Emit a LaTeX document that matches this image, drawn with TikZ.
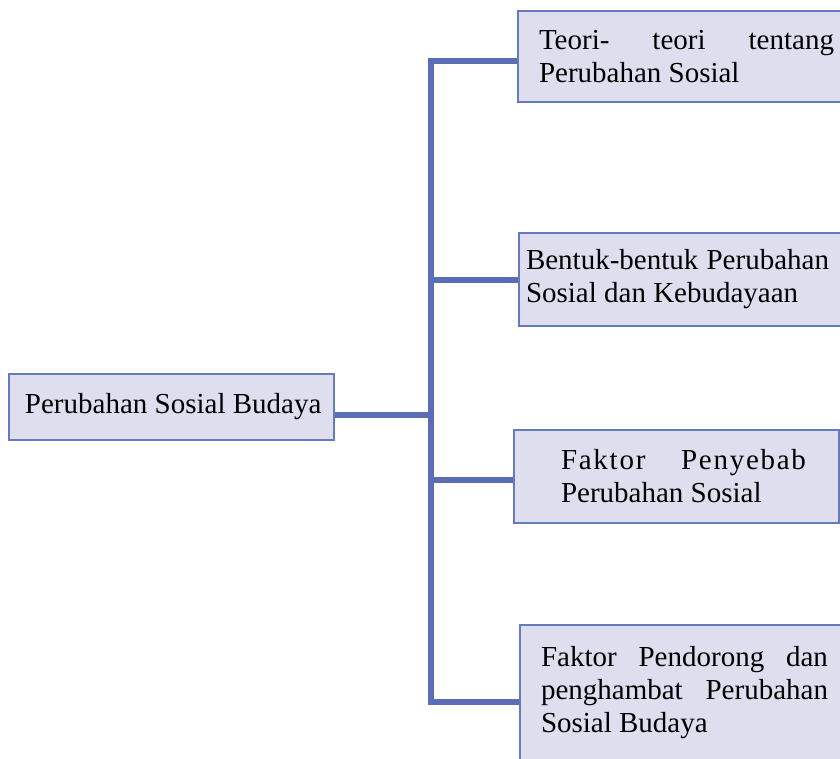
\documentclass[tikz,border=0pt]{standalone}
\usepackage{fontspec}
\setmainfont{Liberation Serif}
\definecolor{linkblue}{RGB}{91,110,181}
\definecolor{boxfill}{RGB}{222,222,238}
\definecolor{boxedge}{RGB}{102,122,190}
\tikzset{
  topic/.style={draw=boxedge, fill=boxfill, line width=2pt, inner sep=0pt,
    anchor=north west, align=flush left, font=\fontsize{29}{33}\selectfont},
  conn/.style={draw=linkblue, line width=6.5pt, line join=miter, line cap=butt},
}
\newcommand{\indt}[1]{\hspace*{#1pt}}
\begin{document}
\begin{tikzpicture}[x=1pt,y=-1pt]
\useasboundingbox (0,0) rectangle (840,758);
\clip (0,0) rectangle (840,758);
\node[topic, text width=337pt, minimum height=91pt] (t1) at (517,10)
  {\indt{21}\makebox[295pt][l]{Teori-\hfill teori\hfill tentang}\\\indt{21}Perubahan Sosial};
\node[topic, text width=330pt, minimum height=93pt] (t2) at (518,232)
  {\indt{7}\makebox[303pt][l]{Bentuk-bentuk\hfill Perubahan}\\\indt{7}Sosial dan Kebudayaan};
\node[topic, text width=325pt, minimum height=93pt] (t3) at (513,429)
  {\indt{47}\makebox[245pt][l]{\addfontfeature{LetterSpace=6}Faktor\hfill Penyebab}\\\indt{47}Perubahan Sosial};
\node[topic, text width=330pt, minimum height=136pt] (t4) at (519,624)
  {\indt{21}\makebox[287pt][l]{Faktor\hfill Pendorong\hfill dan}\\\indt{21}\makebox[287pt][l]{penghambat\hfill Perubahan}\\\indt{21}Sosial Budaya};
\node[topic, text width=325pt, minimum height=66pt] (main) at (8,373)
  {\indt{16}Perubahan Sosial Budaya};
\coordinate (jtop) at (431,61);
\coordinate (j2) at (431,280);
\coordinate (j0) at (431,415);
\coordinate (j3) at (431,480);
\coordinate (jbot) at (431,702);
\draw[conn] (t1.west |- jtop) -- (jtop) -- (jbot) -- (t4.west |- jbot);
\draw[conn] (j2) -- (t2.west |- j2);
\draw[conn] (j3) -- (t3.west |- j3);
\draw[conn] (main.east |- j0) -- (j0);
\end{tikzpicture}
\end{document}
